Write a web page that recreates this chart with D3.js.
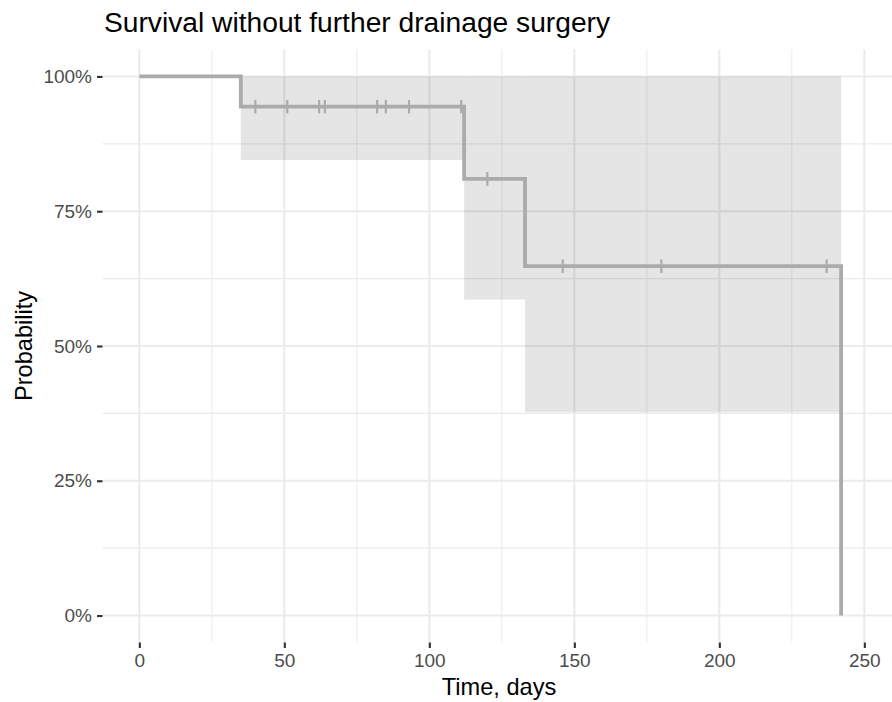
<!DOCTYPE html>
<html><head><meta charset="utf-8">
<script src="https://cdn.jsdelivr.net/npm/d3@7"></script>
<style>
html,body{margin:0;padding:0;background:#fff;}
svg{display:block;font-family:"Liberation Sans",Arial,sans-serif;}
</style></head>
<body>
<svg id="chart" width="892" height="702"></svg>
<script>
// ---- data ----
const stepTimes   = [0, 35, 112, 133, 242];
const survival    = [1, 0.944, 0.810, 0.648, 0];
const lowerCI     = [1, 0.845, 0.586, 0.377, 0.377];
const upperCI     = [1, 1, 1, 1, 1];
const censorTimes = [40, 51, 62, 64, 82, 85, 93, 111, 120, 146, 180, 237];
const xTicks      = [0, 50, 100, 150, 200, 250];
const xMinor      = [25, 75, 125, 175, 225];
const yTicks      = [0, 0.25, 0.5, 0.75, 1];
const yMinor      = [0.125, 0.375, 0.625, 0.875];
const titleText   = "Survival without further drainage surgery";
const xTitle      = "Time, days";
const yTitle      = "Probability";

const svg = d3.select("#chart");
const panel = {left: 102.5, right: 892, top: 49.5, bottom: 642.5};

const x = d3.scaleLinear().domain([-12.7, 259.5]).range([panel.left, panel.left + (259.5+12.7)*2.9]);
const y = d3.scaleLinear().domain([-0.05, 1.05]).range([panel.bottom, panel.top]);

const grid = svg.append("g");
grid.selectAll(".xmin").data(xMinor).join("line")
  .attr("x1", d => x(d)).attr("x2", d => x(d)).attr("y1", panel.top).attr("y2", panel.bottom)
  .attr("stroke", "#EBEBEB").attr("stroke-width", 1.07);
grid.selectAll(".ymin").data(yMinor).join("line")
  .attr("y1", d => y(d)).attr("y2", d => y(d)).attr("x1", panel.left).attr("x2", panel.right)
  .attr("stroke", "#EBEBEB").attr("stroke-width", 1.07);
grid.selectAll(".xmaj").data(xTicks).join("line")
  .attr("x1", d => x(d)).attr("x2", d => x(d)).attr("y1", panel.top).attr("y2", panel.bottom)
  .attr("stroke", "#EBEBEB").attr("stroke-width", 2.13);
grid.selectAll(".ymaj").data(yTicks).join("line")
  .attr("y1", d => y(d)).attr("y2", d => y(d)).attr("x1", panel.left).attr("x2", panel.right)
  .attr("stroke", "#EBEBEB").attr("stroke-width", 2.13);

// confidence band (step)
const bandData = stepTimes.slice(0, -1).map((t, i) => ({t0: t, t1: stepTimes[i+1], lo: lowerCI[i], hi: upperCI[i]}));
svg.append("g").selectAll("rect").data(bandData).join("rect")
  .attr("x", d => x(d.t0)).attr("width", d => x(d.t1) - x(d.t0))
  .attr("y", d => y(d.hi)).attr("height", d => y(d.lo) - y(d.hi))
  .attr("fill", "#000").attr("fill-opacity", 0.1);

// step line
const pts = stepTimes.map((t, i) => [t, survival[i]]);
const line = d3.line().x(d => x(d[0])).y(d => y(d[1])).curve(d3.curveStepAfter);
svg.append("path").datum(pts).attr("d", line)
  .attr("fill", "none").attr("stroke", "#ABABAB").attr("stroke-width", 3.8);

// censor marks
const survAt = t => survival[d3.bisectRight(stepTimes, t) - 1];
svg.append("g").selectAll("line").data(censorTimes).join("line")
  .attr("x1", d => x(d)).attr("x2", d => x(d))
  .attr("y1", d => y(survAt(d)) - 6.8).attr("y2", d => y(survAt(d)) + 6.8)
  .attr("stroke", "#ABABAB").attr("stroke-width", 2.2);

// axes
const xAxis = d3.axisBottom(x).tickValues(xTicks).tickSize(5.5).tickPadding(6).tickFormat(d3.format("d"));
const gx = svg.append("g").attr("transform", `translate(0,${panel.bottom})`).call(xAxis);
gx.select(".domain").remove();
gx.selectAll(".tick line").attr("stroke", "#333333").attr("stroke-width", 2.13);
gx.selectAll(".tick text").attr("fill", "#4D4D4D").attr("font-size", "19px").attr("font-family", "Liberation Sans, Arial, sans-serif");

const yAxis = d3.axisLeft(y).tickValues(yTicks).tickSize(5.5).tickPadding(5).tickFormat(d3.format(".0%"));
const gy = svg.append("g").attr("transform", `translate(${panel.left},0)`).call(yAxis);
gy.select(".domain").remove();
gy.selectAll(".tick line").attr("stroke", "#333333").attr("stroke-width", 2.13);
gy.selectAll(".tick text").attr("fill", "#4D4D4D").attr("font-size", "19px").attr("font-family", "Liberation Sans, Arial, sans-serif");

// titles
svg.append("text").attr("x", 104).attr("y", 32).text(titleText)
  .attr("font-size", "28.2px").attr("fill", "#000");
svg.append("text").attr("x", 499).attr("y", 695).attr("text-anchor", "middle").text(xTitle)
  .attr("font-size", "23.6px").attr("fill", "#000");
svg.append("text").attr("transform", "translate(32,346) rotate(-90)").attr("text-anchor", "middle").text(yTitle)
  .attr("font-size", "23.6px").attr("fill", "#000");
</script>
</body></html>
